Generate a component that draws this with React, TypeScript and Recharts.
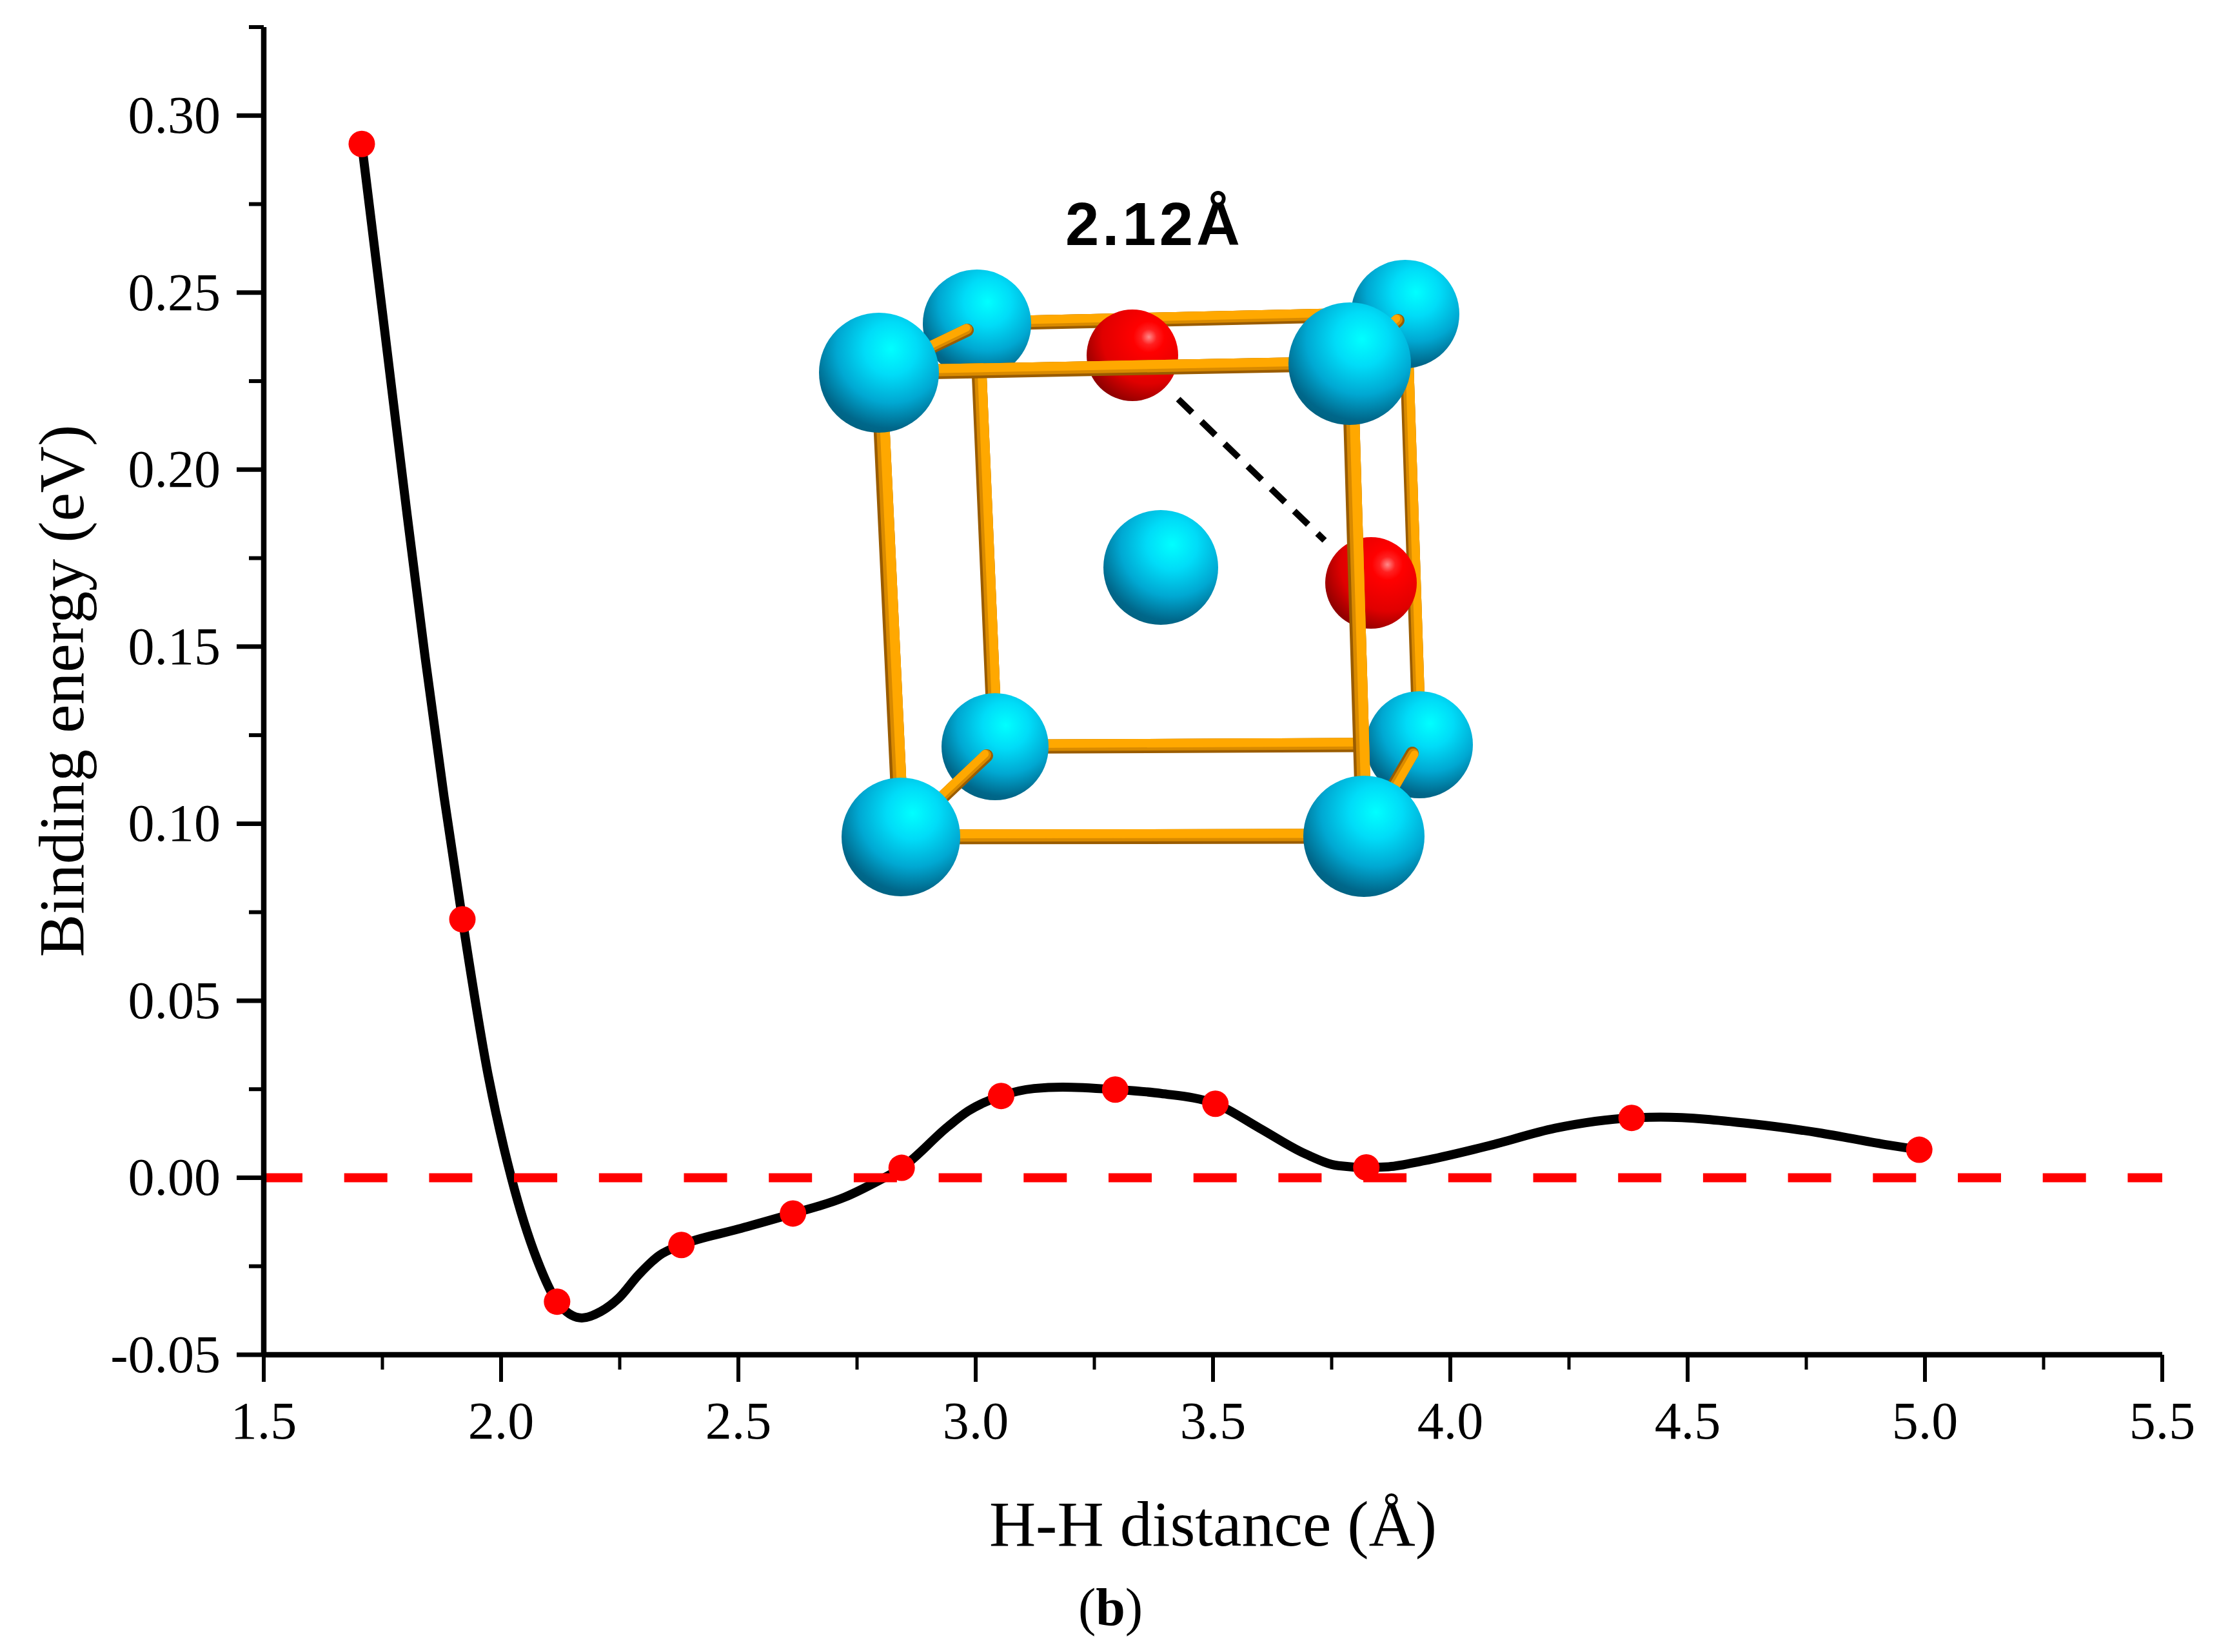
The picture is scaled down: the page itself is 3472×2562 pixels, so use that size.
import React from 'react';
import { ComposedChart, Line, Scatter, XAxis, YAxis } from 'recharts';

// Values
const curveX = [1.7065, 1.75, 1.8, 1.84, 1.88, 1.9185, 1.9723, 2.0217, 2.076, 2.118, 2.17, 2.21, 2.248, 2.29, 2.334, 2.38, 2.5, 2.615, 2.724, 2.793, 2.844, 2.942, 2.984, 3.0536, 3.123, 3.183, 3.294, 3.39, 3.505, 3.598, 3.695, 3.764, 3.823, 3.87, 3.944, 4.083, 4.221, 4.382, 4.443, 4.637, 4.776, 4.915, 4.988];
const curveY = [0.292, 0.2445, 0.1895, 0.147, 0.1075, 0.073, 0.0293, 0, -0.0232, -0.035, -0.0396, -0.0378, -0.034, -0.0274, -0.0219, -0.019, -0.0145, -0.0101, -0.0055, -0.001, 0.0028, 0.0145, 0.0188, 0.0231, 0.0252, 0.0256, 0.0249, 0.0238, 0.0209, 0.014, 0.0067, 0.0034, 0.0029, 0.0031, 0.0048, 0.0091, 0.014, 0.0169, 0.0171, 0.0152, 0.0127, 0.0094, 0.0079];
const pointX = [1.7065, 1.9185, 2.118, 2.38, 2.615, 2.844, 3.0536, 3.294, 3.505, 3.823, 4.382, 4.988];
const pointY = [0.292, 0.073, -0.035, -0.019, -0.0101, 0.0028, 0.0231, 0.0249, 0.0209, 0.0029, 0.0169, 0.0079];
const zeroX = [1.5, 5.5];
const zeroY = [0, 0];
const xMajor = [1.5, 2, 2.5, 3, 3.5, 4, 4.5, 5, 5.5];
const xMinor = [1.75, 2.25, 2.75, 3.25, 3.75, 4.25, 4.75, 5.25];
const yMajor = [-0.05, 0, 0.05, 0.1, 0.15, 0.2, 0.25, 0.3];
const yMinor = [-0.025, 0.025, 0.075, 0.125, 0.175, 0.225, 0.275, 0.325];

const zip = (xs: number[], ys: number[]) => xs.map((x, i) => ({ x, y: ys[i] }));
const curveData = zip(curveX, curveY);
const pointData = zip(pointX, pointY);
const zeroData = zip(zeroX, zeroY);

const FONT = '"Liberation Serif", serif';

const XTick = ({ x, y, payload }: any) => {
  const major = xMajor.includes(payload.value);
  return (
    <g>
      <line x1={x} x2={x} y1={y} y2={y + (major ? 42 : 23)} stroke="#000" strokeWidth={major ? 6 : 5} />
      {major && (
        <text x={x} y={2231} textAnchor="middle" fontFamily={FONT} fontSize={82} fill="#000">
          {payload.value.toFixed(1)}
        </text>
      )}
    </g>
  );
};

const YTick = ({ x, y, payload }: any) => {
  const major = yMajor.includes(payload.value);
  return (
    <g>
      <line x1={x} x2={x - (major ? 42 : 23)} y1={y} y2={y} stroke="#000" strokeWidth={major ? 7 : 6} />
      {major && (
        <text x={342} y={y + 27} textAnchor="end" fontFamily={FONT} fontSize={82} fill="#000">
          {payload.value.toFixed(2)}
        </text>
      )}
    </g>
  );
};

const dot = ({ cx, cy }: any) => <circle cx={cx} cy={cy} r={20.5} fill="#ff0000" />;

// Inset: ball-and-stick cell, drawn as an illustration
const backBonds = [
  [1515, 502, 2179, 487, 22],
  [1543, 1158, 2201, 1155, 22],
  [1515, 502, 1543, 1158, 23],
  [2179, 487, 2201, 1155, 21],
];
const backAtoms = [
  [1515, 502, 84],
  [2179, 487, 84],
  [1543, 1158, 83],
  [2201, 1155, 83],
];
const stubs = [
  [1363, 578, 1500, 512, 20],
  [1397, 1298, 1530, 1172, 20],
  [2115, 1297, 2190, 1168, 20],
  [2093, 564, 2168, 497, 20],
];
const midAtoms = [
  [1800, 880, 89, 'c'],
  [1756, 551, 71, 'r'],
  [2126, 904, 71, 'r'],
];
const frontBonds = [
  [1363, 578, 2093, 564, 23],
  [1397, 1298, 2115, 1297, 23],
  [1363, 578, 1397, 1298, 25],
  [2093, 564, 2115, 1297, 25],
];
const frontAtoms = [
  [1363, 578, 93],
  [2093, 564, 95],
  [1397, 1298, 92],
  [2115, 1297, 94],
];

const Bond = ({ b }: { b: number[] }) => {
  const [x1, y1, x2, y2, w] = b;
  const len = Math.hypot(x2 - x1, y2 - y1);
  let nx = (y1 - y2) / len;
  let ny = (x2 - x1) / len;
  if (nx * 0.6 - ny * 0.8 < 0) {
    nx = -nx;
    ny = -ny;
  }
  const layer = (off: number, width: number, color: string) => (
    <line
      x1={x1 + nx * off}
      y1={y1 + ny * off}
      x2={x2 + nx * off}
      y2={y2 + ny * off}
      stroke={color}
      strokeWidth={width}
      strokeLinecap="round"
    />
  );
  return (
    <g>
      {layer(0, w, '#9a5c00')}
      {layer(w * 0.09, w * 0.82, '#d98a00')}
      {layer(w * 0.2, w * 0.6, '#ffa800')}
    </g>
  );
};

const Ball = ({ a, fill }: { a: number[]; fill: string }) => <circle cx={a[0]} cy={a[1]} r={a[2]} fill={fill} />;

const Inset = () => (
  <g>
    <defs>
      <radialGradient id="cyanBall" cx="0.6" cy="0.3" r="0.78" fx="0.6" fy="0.3">
        <stop offset="0" stopColor="#00ffff" />
        <stop offset="0.28" stopColor="#00dcf8" />
        <stop offset="0.58" stopColor="#00a8d2" />
        <stop offset="0.85" stopColor="#00678a" />
        <stop offset="1" stopColor="#005f7c" />
      </radialGradient>
      <radialGradient id="redBall" cx="0.68" cy="0.3" r="0.85" fx="0.68" fy="0.3">
        <stop offset="0" stopColor="#ff8a8a" />
        <stop offset="0.1" stopColor="#ff2020" />
        <stop offset="0.2" stopColor="#ff0000" />
        <stop offset="0.6" stopColor="#e00000" />
        <stop offset="1" stopColor="#700000" />
      </radialGradient>
    </defs>
    {backBonds.map((b, i) => <Bond key={i} b={b} />)}
    {backAtoms.map((a, i) => <Ball key={i} a={a} fill="url(#cyanBall)" />)}
    {stubs.map((b, i) => <Bond key={i} b={b} />)}
    {midAtoms.map((a, i) => <Ball key={i} a={a as number[]} fill={a[3] === 'r' ? 'url(#redBall)' : 'url(#cyanBall)'} />)}
    <line x1={1827} y1={619} x2={2054} y2={838} stroke="#000" strokeWidth={10} strokeDasharray="30 20" />
    {frontBonds.map((b, i) => <Bond key={i} b={b} />)}
    {frontAtoms.map((a, i) => <Ball key={i} a={a} fill="url(#cyanBall)" />)}
    <text x={1790} y={380} textAnchor="middle" fontFamily='"Liberation Sans", sans-serif' fontWeight="bold" fontSize={94} letterSpacing={5} fill="#000">
      2.12Å
    </text>
  </g>
);

const Caption = () => (
  <text x={1722} y={2520} textAnchor="middle" fontFamily={FONT} fontSize={82} fill="#000">
    (<tspan fontWeight="bold">b</tspan>)
  </text>
);

export default function App() {
  return (
    <div style={{ position: 'absolute', left: 0, top: 0, width: 3472, height: 2562, background: '#fff' }}>
      <ComposedChart width={3472} height={2562} margin={{ top: 42, right: 119, bottom: 0, left: 0 }}>
        <XAxis
          type="number"
          dataKey="x"
          domain={[1.5, 5.5]}
          ticks={[...xMajor, ...xMinor].sort((a, b) => a - b)}
          interval={0}
          height={461}
          tickSize={0}
          tickMargin={0}
          tickLine={false}
          tick={<XTick />}
          axisLine={{ stroke: '#000', strokeWidth: 8.5 }}
          label={{ value: 'H-H distance (Å)', position: 'insideBottom', offset: 165, fontFamily: FONT, fontSize: 100, fill: '#000' }}
        />
        <YAxis
          type="number"
          domain={[-0.05, 0.325]}
          ticks={[...yMajor, ...yMinor].sort((a, b) => a - b)}
          interval={0}
          width={409}
          tickSize={0}
          tickMargin={0}
          tickLine={false}
          tick={<YTick />}
          axisLine={{ stroke: '#000', strokeWidth: 8.5 }}
          label={{ value: 'Binding energy (eV)', angle: -90, position: 'insideLeft', offset: 93, textAnchor: 'middle', fontFamily: FONT, fontSize: 100, fill: '#000' }}
        />
        <Line data={curveData} dataKey="y" type="monotone" stroke="#000" strokeWidth={14} dot={false} isAnimationActive={false} />
        <Line data={zeroData} dataKey="y" type="linear" stroke="#ff0000" strokeWidth={14} strokeDasharray="67 64.7" strokeDashoffset={7} dot={false} isAnimationActive={false} />
        <Scatter data={pointData} dataKey="y" shape={dot} isAnimationActive={false} />
        <Inset />
        <Caption />
      </ComposedChart>
    </div>
  );
}
